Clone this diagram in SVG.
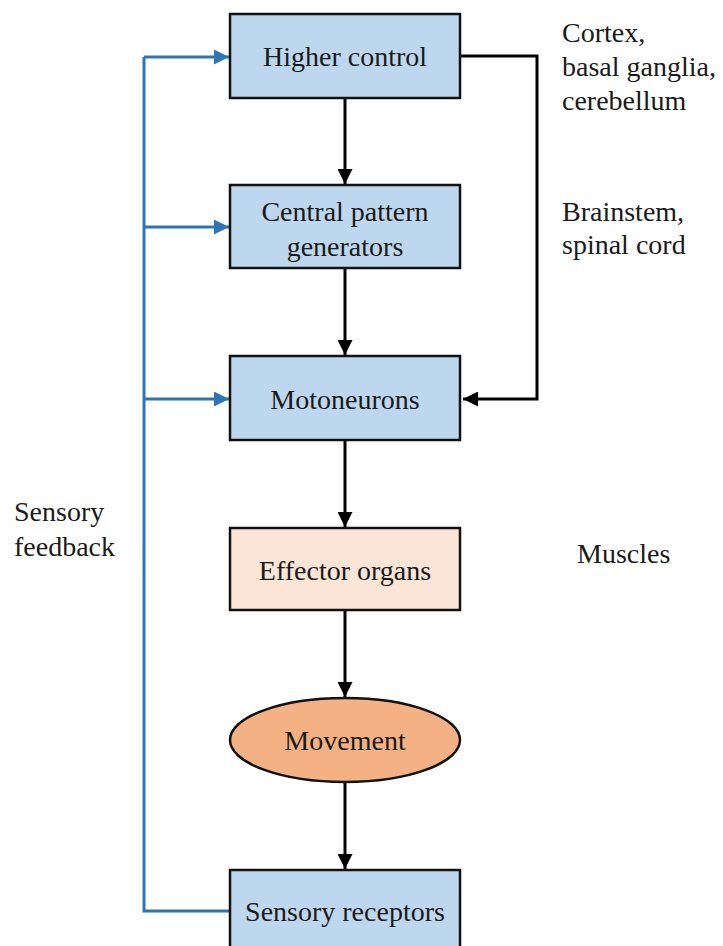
<svg xmlns="http://www.w3.org/2000/svg" width="723" height="946" viewBox="0 0 723 946">
<defs>
<style>
text{font-family:'Liberation Serif',Tinos,'Times New Roman',Times,'DejaVu Serif',serif;font-size:28px;fill:#1a1a1a}
.c{text-anchor:middle}
.box{stroke:#111;stroke-width:2.5}
.blue{fill:#BDD7EE}
.peach{fill:#FBE5D6}
.orange{fill:#F4B183}
.k{fill:none;stroke:#000;stroke-width:3}
.b{fill:none;stroke:#2E75B6;stroke-width:3}
</style>
<marker id="ak" viewBox="0 0 10 10" refX="10" refY="5" markerWidth="5" markerHeight="5" markerUnits="strokeWidth" orient="auto"><path d="M0,0 L10,5 L0,10 z" fill="#000"/></marker>
<marker id="ab" viewBox="0 0 10 10" refX="10" refY="5" markerWidth="5" markerHeight="5" markerUnits="strokeWidth" orient="auto"><path d="M0,0 L10,5 L0,10 z" fill="#2E75B6"/></marker>
</defs>
<rect width="723" height="946" fill="#fff"/>
<g id="connectors">
<line class="k" x1="345" y1="98" x2="345" y2="184" marker-end="url(#ak)"/>
<line class="k" x1="345" y1="268" x2="345" y2="355" marker-end="url(#ak)"/>
<line class="k" x1="345" y1="440" x2="345" y2="527" marker-end="url(#ak)"/>
<line class="k" x1="345" y1="610" x2="345" y2="697" marker-end="url(#ak)"/>
<line class="k" x1="345" y1="782" x2="345" y2="869" marker-end="url(#ak)"/>
<polyline class="k" points="460,56 537,56 537,399 463,399" marker-end="url(#ak)"/>
<polyline class="b" points="230,911 144,911 144,57"/>
<line class="b" x1="144" y1="57" x2="229" y2="57" marker-end="url(#ab)"/>
<line class="b" x1="144" y1="227" x2="229" y2="227" marker-end="url(#ab)"/>
<line class="b" x1="144" y1="399" x2="229" y2="399" marker-end="url(#ab)"/>
</g>
<g id="higher-control">
<rect class="box blue" x="230" y="14" width="230" height="84"/>
<text class="c" x="345" y="66">Higher control</text>
</g>
<g id="central-pattern-generators">
<rect class="box blue" x="230" y="185" width="230" height="83"/>
<text class="c" x="345" y="221">Central pattern</text>
<text class="c" x="345" y="256">generators</text>
</g>
<g id="motoneurons">
<rect class="box blue" x="230" y="356" width="230" height="84"/>
<text class="c" x="345" y="409">Motoneurons</text>
</g>
<g id="effector-organs">
<rect class="box peach" x="230" y="528" width="230" height="82"/>
<text class="c" x="345" y="580">Effector organs</text>
</g>
<g id="movement">
<ellipse class="box orange" cx="345" cy="740" rx="115" ry="42"/>
<text class="c" x="345" y="750">Movement</text>
</g>
<g id="sensory-receptors">
<rect class="box blue" x="230" y="870" width="230" height="90"/>
<text class="c" x="345" y="921">Sensory receptors</text>
</g>
<g id="labels">
<text x="562" y="42">Cortex,</text>
<text x="562" y="76">basal ganglia,</text>
<text x="562" y="110">cerebellum</text>
<text x="562" y="221">Brainstem,</text>
<text x="562" y="254">spinal cord</text>
<text x="577" y="563">Muscles</text>
<text x="14" y="521">Sensory</text>
<text x="14" y="556">feedback</text>
</g>
</svg>
